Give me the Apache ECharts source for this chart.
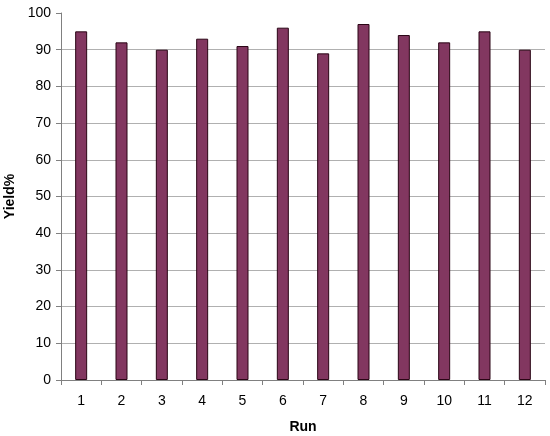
<!DOCTYPE html>
<html>
<head>
<meta charset="utf-8">
<script src="https://cdn.jsdelivr.net/npm/echarts@6/dist/echarts.min.js"></script>
<style>html,body{margin:0;padding:0;background:#fff;}#c{width:550px;height:436px;}</style>
</head>
<body>
<div id="c"></div>
<script>
const runs = ['1','2','3','4','5','6','7','8','9','10','11','12'];
const yieldPct = [95, 92, 90, 93, 91, 96, 89, 97, 94, 92, 95, 90];
const yTicks = [0, 10, 20, 30, 40, 50, 60, 70, 80, 90, 100];

const gridColors = yTicks.map((v, i) => i === yTicks.length - 1 ? 'rgba(0,0,0,0)' : '#b0b0b0');

const chart = echarts.init(document.getElementById('c'), null, {renderer: 'canvas'});
chart.setOption({
  animation: false,
  backgroundColor: '#ffffff',
  grid: {left: 61, right: 5, top: 13, bottom: 56, containLabel: false, outerBoundsMode: 'none'},
  xAxis: {
    type: 'category',
    data: runs,
    name: 'Run',
    nameLocation: 'middle',
    nameGap: 40,
    nameTextStyle: {fontFamily: 'Liberation Sans, Arial', fontSize: 14, fontWeight: 'bold', color: '#000'},
    axisLine: {lineStyle: {color: '#808080', width: 1}},
    axisTick: {show: true, alignWithLabel: false, length: 5, lineStyle: {color: '#808080'}},
    axisLabel: {fontFamily: 'Liberation Sans, Arial', fontSize: 14, color: '#000', margin: 14}
  },
  yAxis: {
    type: 'value',
    min: yTicks[0],
    max: yTicks[yTicks.length - 1],
    interval: 10,
    name: 'Yield%',
    nameLocation: 'middle',
    nameGap: 44,
    nameRotate: 90,
    nameTextStyle: {fontFamily: 'Liberation Sans, Arial', fontSize: 14, fontWeight: 'bold', color: '#000'},
    axisLine: {show: true, lineStyle: {color: '#808080', width: 1}},
    axisTick: {show: true, length: 5, lineStyle: {color: '#808080'}},
    axisLabel: {fontFamily: 'Liberation Sans, Arial', fontSize: 14, color: '#000', margin: 10},
    splitLine: {show: true, lineStyle: {color: gridColors, width: 1}}
  },
  series: [{
    type: 'bar',
    data: yieldPct,
    barWidth: 12,
    itemStyle: {color: '#823760', borderColor: '#2a0515', borderWidth: 1}
  }]
});
</script>
</body>
</html>
